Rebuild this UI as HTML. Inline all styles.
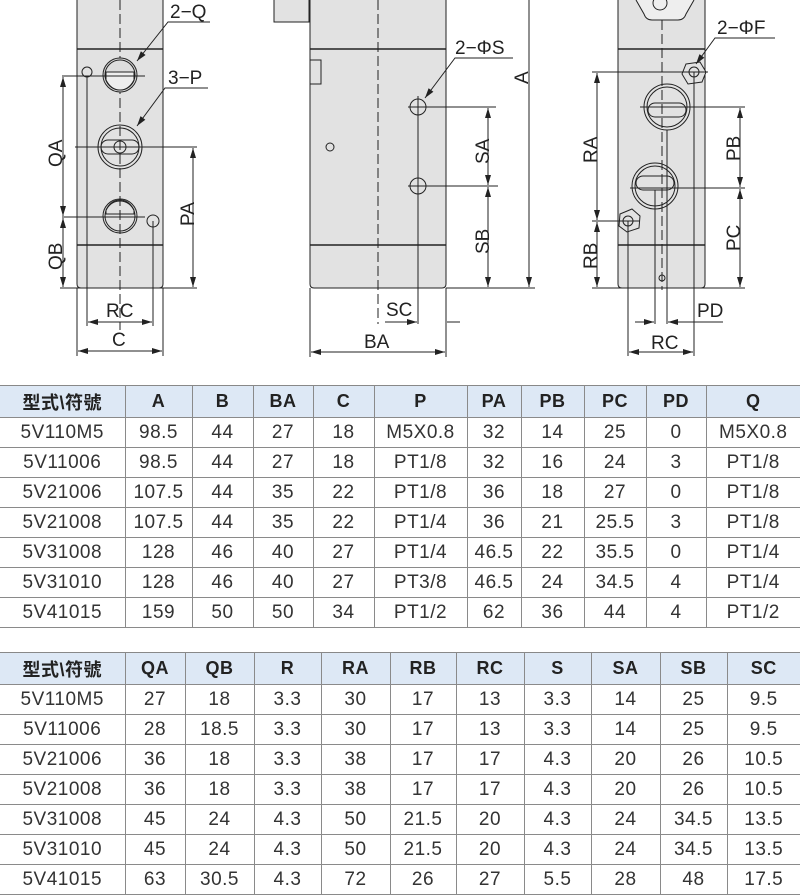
<!DOCTYPE html>
<html><head><meta charset="utf-8"><style>
body{margin:0;width:800px;height:885px;overflow:hidden;background:#fff;font-family:"Liberation Sans","Noto Sans CJK TC",sans-serif;}
table{position:absolute;left:0;border-collapse:collapse;table-layout:fixed;width:800px;}
td{border:1px solid #8a8a8a;text-align:center;color:#333;font-size:19px;height:29px;padding:0;white-space:nowrap;letter-spacing:0.5px}
tr td:first-child{border-left:none}
tr td:last-child{border-right:none}
tr.h td{background:#dde8f5;font-weight:bold;color:#222;font-size:18px;height:31px;border-top:1px solid #888}
svg text{font-family:"Liberation Sans",sans-serif;font-size:19px;fill:#222}
</style></head><body>
<svg width="800" height="375" style="position:absolute;left:0;top:0" stroke="#222" stroke-width="1" fill="none">
<defs><marker id="a" viewBox="0 0 10 6" refX="10" refY="3" markerWidth="12" markerHeight="6" orient="auto-start-reverse" markerUnits="userSpaceOnUse"><path d="M0,0L10,3L0,6z" fill="#222" stroke="none"/></marker></defs>
<!-- LEFT VIEW -->
<path d="M77,0V284q0,4 4,4H159q4,0 4,-4V0" fill="#e2e2e2"/>
<line x1="77" y1="49" x2="163" y2="49" stroke-width="1.5"/><line x1="77" y1="245" x2="163" y2="245" stroke-width="1.5"/>
<line x1="120" y1="0" x2="120" y2="330" stroke-dasharray="10,4"/>
<circle cx="120" cy="75" r="17" fill="#ddd"/><circle cx="120" cy="75" r="15"/><path d="M106,72h28v8q-5,10-14,10t-14-10z" fill="#eee"/>
<circle cx="120" cy="147" r="22"/><circle cx="120" cy="147" r="19"/><rect x="101" y="140" width="38" height="14" rx="7"/><circle cx="120" cy="147" r="6"/>
<circle cx="120" cy="216" r="17"/><circle cx="120" cy="216" r="15"/><path d="M106,214h28v-4q-5,-10-14,-10t-14,10z"/>
<circle cx="87" cy="72" r="5"/><circle cx="153" cy="221" r="6"/>
<line x1="62" y1="76" x2="145" y2="76"/><line x1="75" y1="147" x2="197" y2="147"/><line x1="62" y1="217" x2="145" y2="217"/><line x1="60" y1="288" x2="197" y2="288"/>
<line x1="63" y1="77" x2="63" y2="216" marker-start="url(#a)" marker-end="url(#a)"/>
<line x1="63" y1="218" x2="63" y2="287" marker-start="url(#a)" marker-end="url(#a)"/>
<line x1="193" y1="148" x2="193" y2="287" marker-start="url(#a)" marker-end="url(#a)"/>
<line x1="87" y1="76" x2="87" y2="326"/><line x1="153" y1="221" x2="153" y2="326"/>
<line x1="77" y1="288" x2="77" y2="356"/><line x1="163" y1="288" x2="163" y2="356"/>
<line x1="88" y1="322" x2="152" y2="322" marker-start="url(#a)" marker-end="url(#a)"/>
<line x1="78" y1="351" x2="162" y2="351" marker-start="url(#a)" marker-end="url(#a)"/>
<text x="106" y="317" stroke="none">RC</text><text x="112" y="346" stroke="none">C</text>
<text transform="translate(62,167) rotate(-90)" stroke="none">QA</text>
<text transform="translate(62,270) rotate(-90)" stroke="none">QB</text>
<text transform="translate(194,226) rotate(-90)" stroke="none">PA</text>
<polyline points="210,22 168,22 137,61" marker-end="url(#a)"/><text x="170" y="18" stroke="none">2−Q</text>
<polyline points="208,88 165,88 137,126" marker-end="url(#a)"/><text x="168" y="84" stroke="none">3−P</text>
<!-- MIDDLE VIEW -->
<rect x="274" y="-2" width="35" height="24" fill="#e2e2e2"/>
<path d="M310,0V284q0,4 4,4H442q4,0 4,-4V0" fill="#e2e2e2"/>
<line x1="310" y1="49" x2="446" y2="49" stroke-width="1.5"/><line x1="310" y1="245" x2="446" y2="245" stroke-width="1.5"/>
<rect x="310" y="60" width="11" height="24" fill="#e2e2e2"/>
<line x1="378" y1="0" x2="378" y2="324" stroke-dasharray="10,4"/>
<circle cx="330" cy="147" r="4"/>
<circle cx="418" cy="107" r="8"/><circle cx="418" cy="186" r="8"/>
<line x1="408" y1="107" x2="496" y2="107"/><line x1="408" y1="186" x2="498" y2="186"/><line x1="446" y1="288" x2="535" y2="288"/>
<line x1="418" y1="96" x2="418" y2="324"/>
<line x1="488" y1="108" x2="488" y2="185" marker-start="url(#a)" marker-end="url(#a)"/>
<line x1="488" y1="187" x2="488" y2="287" marker-start="url(#a)" marker-end="url(#a)"/>
<line x1="529" y1="0" x2="529" y2="287" marker-end="url(#a)"/>
<line x1="310" y1="288" x2="310" y2="357"/><line x1="446" y1="288" x2="446" y2="357"/>
<line x1="385" y1="322" x2="417" y2="322" marker-end="url(#a)"/><line x1="460" y1="322" x2="447" y2="322"/>
<line x1="311" y1="352" x2="445" y2="352" marker-start="url(#a)" marker-end="url(#a)"/>
<text x="386" y="316" stroke="none">SC</text><text x="364" y="348" stroke="none">BA</text>
<text transform="translate(489,164) rotate(-90)" stroke="none">SA</text>
<text transform="translate(489,254) rotate(-90)" stroke="none">SB</text>
<text transform="translate(528,84) rotate(-90)" stroke="none">A</text>
<polyline points="513,58 455,58 425,98" marker-end="url(#a)"/><text x="455" y="54" stroke="none">2−ΦS</text>
<!-- RIGHT VIEW -->
<path d="M618,0V49H705V0" fill="#e2e2e2"/>
<path d="M636,0l8,14q2,6 8,6h26q6,0 8,-6l8,-14" fill="#eee"/><circle cx="660" cy="3" r="7"/>
<path d="M618,49V284q0,4 4,4H701q4,0 4,-4V49z" fill="#e2e2e2"/>
<line x1="618" y1="49" x2="705" y2="49" stroke-width="1.5"/><line x1="618" y1="245" x2="705" y2="245" stroke-width="1.5"/>
<line x1="662" y1="20" x2="662" y2="290" stroke-dasharray="10,4"/>
<polygon points="686,64 700,62 706,72 702,82 688,84 682,74" fill="#e2e2e2"/><circle cx="694" cy="72" r="5"/>
<circle cx="667" cy="107" r="23"/><circle cx="667" cy="107" r="20"/><rect x="648" y="103" width="38" height="14" rx="7"/>
<circle cx="655" cy="186" r="23"/><circle cx="655" cy="186" r="20"/><rect x="636" y="176" width="38" height="14" rx="7"/>
<polygon points="620,214 632,209 640,216 639,228 627,232 619,226" fill="#e2e2e2"/><circle cx="628" cy="221" r="5"/>
<circle cx="662" cy="278" r="3"/>
<line x1="592" y1="72" x2="708" y2="72"/><line x1="640" y1="107" x2="745" y2="107"/><line x1="630" y1="188" x2="745" y2="188"/><line x1="592" y1="221" x2="640" y2="221"/><line x1="592" y1="288" x2="745" y2="288"/>
<line x1="597" y1="73" x2="597" y2="220" marker-start="url(#a)" marker-end="url(#a)"/>
<line x1="597" y1="222" x2="597" y2="287" marker-start="url(#a)" marker-end="url(#a)"/>
<line x1="740" y1="108" x2="740" y2="187" marker-start="url(#a)" marker-end="url(#a)"/>
<line x1="740" y1="189" x2="740" y2="287" marker-start="url(#a)" marker-end="url(#a)"/>
<line x1="628" y1="221" x2="628" y2="356"/><line x1="694" y1="72" x2="694" y2="356"/>
<line x1="655" y1="190" x2="655" y2="324"/><line x1="667" y1="130" x2="667" y2="324"/>
<line x1="635" y1="322" x2="654" y2="322" marker-end="url(#a)"/><line x1="723" y1="322" x2="668" y2="322" marker-end="url(#a)"/>
<line x1="629" y1="352" x2="693" y2="352" marker-start="url(#a)" marker-end="url(#a)"/>
<text x="697" y="317" stroke="none">PD</text><text x="651" y="349" stroke="none">RC</text>
<text transform="translate(597,163) rotate(-90)" stroke="none">RA</text>
<text transform="translate(597,269) rotate(-90)" stroke="none">RB</text>
<text transform="translate(740,161) rotate(-90)" stroke="none">PB</text>
<text transform="translate(740,251) rotate(-90)" stroke="none">PC</text>
<polyline points="775,38 715,38 696,64" marker-end="url(#a)"/><text x="717" y="34" stroke="none">2−ΦF</text>
</svg>

<table style="top:385px">
<colgroup><col style="width:125px"><col style="width:67px"><col style="width:61px"><col style="width:60px"><col style="width:61px"><col style="width:93px"><col style="width:54px"><col style="width:63px"><col style="width:62px"><col style="width:60px"><col style="width:94px"></colgroup>
<tr class="h"><td>型式\符號</td><td>A</td><td>B</td><td>BA</td><td>C</td><td>P</td><td>PA</td><td>PB</td><td>PC</td><td>PD</td><td>Q</td></tr>
<tr><td>5V110M5</td><td>98.5</td><td>44</td><td>27</td><td>18</td><td>M5X0.8</td><td>32</td><td>14</td><td>25</td><td>0</td><td>M5X0.8</td></tr>
<tr><td>5V11006</td><td>98.5</td><td>44</td><td>27</td><td>18</td><td>PT1/8</td><td>32</td><td>16</td><td>24</td><td>3</td><td>PT1/8</td></tr>
<tr><td>5V21006</td><td>107.5</td><td>44</td><td>35</td><td>22</td><td>PT1/8</td><td>36</td><td>18</td><td>27</td><td>0</td><td>PT1/8</td></tr>
<tr><td>5V21008</td><td>107.5</td><td>44</td><td>35</td><td>22</td><td>PT1/4</td><td>36</td><td>21</td><td>25.5</td><td>3</td><td>PT1/8</td></tr>
<tr><td>5V31008</td><td>128</td><td>46</td><td>40</td><td>27</td><td>PT1/4</td><td>46.5</td><td>22</td><td>35.5</td><td>0</td><td>PT1/4</td></tr>
<tr><td>5V31010</td><td>128</td><td>46</td><td>40</td><td>27</td><td>PT3/8</td><td>46.5</td><td>24</td><td>34.5</td><td>4</td><td>PT1/4</td></tr>
<tr><td>5V41015</td><td>159</td><td>50</td><td>50</td><td>34</td><td>PT1/2</td><td>62</td><td>36</td><td>44</td><td>4</td><td>PT1/2</td></tr>
</table>

<table style="top:652px">
<colgroup><col style="width:125px"><col style="width:60px"><col style="width:69px"><col style="width:67px"><col style="width:69px"><col style="width:66px"><col style="width:68px"><col style="width:67px"><col style="width:69px"><col style="width:67px"><col style="width:73px"></colgroup>
<tr class="h"><td>型式\符號</td><td>QA</td><td>QB</td><td>R</td><td>RA</td><td>RB</td><td>RC</td><td>S</td><td>SA</td><td>SB</td><td>SC</td></tr>
<tr><td>5V110M5</td><td>27</td><td>18</td><td>3.3</td><td>30</td><td>17</td><td>13</td><td>3.3</td><td>14</td><td>25</td><td>9.5</td></tr>
<tr><td>5V11006</td><td>28</td><td>18.5</td><td>3.3</td><td>30</td><td>17</td><td>13</td><td>3.3</td><td>14</td><td>25</td><td>9.5</td></tr>
<tr><td>5V21006</td><td>36</td><td>18</td><td>3.3</td><td>38</td><td>17</td><td>17</td><td>4.3</td><td>20</td><td>26</td><td>10.5</td></tr>
<tr><td>5V21008</td><td>36</td><td>18</td><td>3.3</td><td>38</td><td>17</td><td>17</td><td>4.3</td><td>20</td><td>26</td><td>10.5</td></tr>
<tr><td>5V31008</td><td>45</td><td>24</td><td>4.3</td><td>50</td><td>21.5</td><td>20</td><td>4.3</td><td>24</td><td>34.5</td><td>13.5</td></tr>
<tr><td>5V31010</td><td>45</td><td>24</td><td>4.3</td><td>50</td><td>21.5</td><td>20</td><td>4.3</td><td>24</td><td>34.5</td><td>13.5</td></tr>
<tr><td>5V41015</td><td>63</td><td>30.5</td><td>4.3</td><td>72</td><td>26</td><td>27</td><td>5.5</td><td>28</td><td>48</td><td>17.5</td></tr>
</table>
</body></html>
